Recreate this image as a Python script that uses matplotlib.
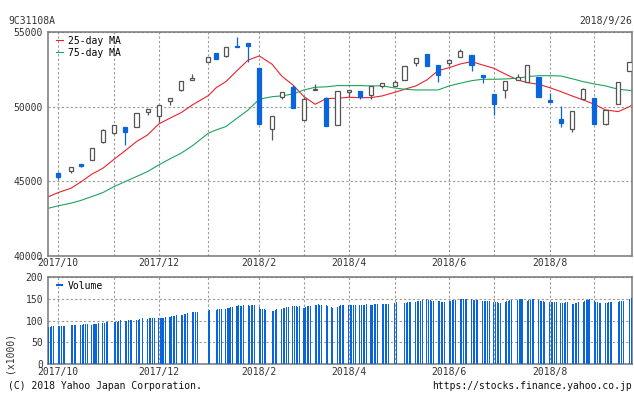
import numpy as np
import pandas as pd
import matplotlib
matplotlib.use('Agg')
import matplotlib.pyplot as plt

plt.rcParams['font.family'] = ['DejaVu Sans Mono']
plt.rcParams['font.size'] = 7

# trading calendar (closed days in the period)
closed = ['2017-10-09', '2017-11-03', '2017-11-23', '2017-12-29', '2018-01-01',
          '2018-01-02', '2018-01-03', '2018-01-08', '2018-02-12', '2018-03-21',
          '2018-04-30', '2018-05-03', '2018-05-04', '2018-07-16', '2018-09-17',
          '2018-09-24']
days = pd.bdate_range('2017-09-26', '2018-09-26')
days = days[~days.isin(pd.to_datetime(closed))]

# weekly candles, Oct 2017 week .. Sep 2018 week
opens = [45550, 45720, 46150, 46440, 47620, 48220, 48645, 48670, 49650, 49360,
         50380, 51120, 51770, 53010, 53575, 53415, 54060, 54245, 52570, 48490,
         50630, 51300, 49095, 51100, 50585, 48800, 51005, 51055, 50765, 51385,
         51385, 51770, 52945, 53530, 52790, 52905, 53350, 53460, 52100, 50850,
         51140, 51810, 51635, 51990, 50430, 49200, 48490, 50500, 50585, 48865,
         50165, 52370]
closes = [45320, 45950, 46020, 47220, 48440, 48760, 48330, 49560, 49830, 50100,
          50570, 51720, 51920, 53310, 53215, 53975, 53980, 54085, 48870, 49360,
          50970, 49935, 50500, 51205, 48730, 51055, 51120, 50670, 51385, 51570,
          51635, 52725, 53240, 52745, 52125, 53105, 53710, 52790, 51990, 50205,
          51720, 51990, 52770, 50670, 50340, 48930, 49715, 51165, 48865, 49760,
          51635, 52975]
highs = [45650, 45960, 46190, 47230, 48480, 48800, 48650, 49580, 49840, 50110,
         50580, 51730, 52190, 53320, 53580, 53980, 54690, 54250, 52580, 49370,
         50980, 51455, 50670, 51500, 50650, 51060, 51125, 51060, 51390, 51575,
         51790, 52730, 53245, 53535, 52795, 53110, 53885, 53465, 52105, 50855,
         51725, 52190, 52775, 51995, 50940, 50050, 49720, 51275, 50590, 49765,
         51640, 52980]
lows = [45150, 45590, 45950, 46430, 47600, 48200, 47440, 48650, 49430, 49000,
        50140, 51070, 51760, 53000, 53200, 53350, 53970, 53010, 48850, 47775,
        50500, 49930, 49080, 51090, 48720, 48790, 50670, 50500, 50540, 51235,
        51380, 51760, 52725, 52740, 51675, 52745, 53340, 52410, 51610, 49465,
        50585, 51800, 51630, 50665, 50330, 48665, 48330, 50490, 48860, 48780,
        50160, 52365]

# moving averages read at start, each candle week, and end
ma25 = [43980,
        44250, 44540, 44945, 45480, 45880, 46480, 47060, 47660, 48110, 48845,
        49230, 49600, 50115, 50740, 51275, 51675, 52410, 53125, 53395, 52840,
        52055, 51455, 50670, 50160, 50540, 50565, 50630, 50605, 50605, 50720,
        50965, 51165, 51385, 51790, 52410, 52610, 52860, 53015, 52790, 52570,
        52190, 51790, 51610, 51500, 51275, 51005, 50720, 50450, 50165, 49780,
        49670, 50005,
        50070]
ma75 = [43205,
        43360, 43540, 43715, 43980, 44250, 44650, 44985, 45320, 45655, 46100,
        46505, 46885, 47375, 48220, 48445, 48665, 49225, 49780, 50500, 50670,
        50720, 50850, 51120, 51300, 51330, 51410, 51410, 51410, 51390, 51390,
        51250, 51165, 51120, 51120, 51120, 51390, 51570, 51740, 51835, 51835,
        51855, 51905, 52010, 52075, 52075, 52055, 51875, 51675, 51520, 51390,
        51165, 51090,
        51075]

# daily volume (x1000), one row per week
volume = [86, 86, 87, 88,
          88, 88, 88, 88, 88,
          90, 90, 90, 90,
          90, 91, 92, 92, 92,
          91, 92, 92, 92, 95,
          94, 95, 97, 97,
          97, 98, 98, 99, 101,
          99, 100, 101, 101, 101,
          101, 102, 104, 105,
          104, 105, 105, 105, 107,
          105, 106, 106, 107, 108,
          108, 110, 110, 111, 112,
          113, 114, 115, 115, 117,
          119, 120, 120, 120,
          122, 124,
          125, 126, 126, 127,
          128, 130, 130, 131, 132,
          134, 135, 134, 134, 136,
          135, 134, 136, 136, 136,
          132, 128, 127, 126, 125,
          122, 122, 124, 126,
          128, 129, 130, 131, 132,
          133, 134, 134, 132, 133,
          130, 132, 133, 134, 134,
          135, 136, 138, 137, 136,
          136, 134, 132, 130,
          132, 134, 135, 136, 136,
          135, 136, 136, 136, 136,
          136, 136, 137, 137, 138,
          137, 136, 138, 138, 138,
          138, 138, 138, 138, 138,
          140, 143,
          141, 141, 142, 143, 143,
          144, 145, 146, 146, 148,
          149, 148, 147, 146, 145,
          145, 145, 144, 143, 143,
          146, 146, 147, 148, 148,
          149, 149, 149, 149, 149,
          149, 148, 148, 148, 148,
          146, 146, 146, 146, 146,
          144, 143, 142, 140, 140,
          143, 145, 146, 148, 148,
          148, 149, 149, 149,
          146, 147, 148, 149, 149,
          148, 146, 145, 145, 144,
          144, 144, 144, 144, 144,
          140, 141, 141, 142, 142,
          138, 139, 140, 141, 142,
          144, 146, 147, 148, 149,
          145, 144, 142, 141, 140,
          140, 141, 142, 142, 143,
          144, 145, 145, 146,
          151, 152]

month_grid = ['2017-10-02', '2017-11-06', '2017-12-04', '2018-01-04', '2018-02-05',
              '2018-03-05', '2018-04-02', '2018-05-01', '2018-06-04', '2018-07-02',
              '2018-08-06', '2018-09-03']
month_labels = ['2017/10', '', '2017/12', '', '2018/2', '', '2018/4', '',
                '2018/6', '', '2018/8', '']

assert len(volume) == len(days), (len(volume), len(days))

BLUE = '#0A64DC'
GRAY = '#555555'
RED = '#E8222C'
GREEN = '#1FA35A'
SPINE = '#777777'

week_first = pd.Series(days, index=days).groupby(days.to_period('W')).min()
candle_days = pd.DatetimeIndex(week_first.values[1:])
ma_days = pd.DatetimeIndex([pd.Timestamp('2017-09-26')] + list(candle_days) + [pd.Timestamp('2018-09-26')])

W, H = 634, 394
fig = plt.figure(figsize=(W / 100, H / 100), dpi=100)


def fbox(l, t, r, b):
    return [l / W, 1 - b / H, (r - l) / W, (b - t) / H]


ax = fig.add_axes(fbox(48, 32, 632, 256))
axv = fig.add_axes(fbox(48, 277.3, 632, 364), sharex=ax)

o = np.array(opens); c = np.array(closes)
hi = np.array(highs); lo = np.array(lows)
up = c >= o
blo = np.minimum(o, c)
bh = np.maximum(np.abs(c - o), 40)

ax.plot(ma_days, ma25, color=RED, lw=0.8, zorder=2, label='25-day MA')
ax.plot(ma_days, ma75, color=GREEN, lw=0.8, zorder=2, label='75-day MA')

ax.vlines(candle_days[up], lo[up], hi[up], color=GRAY, lw=0.9, zorder=3)
ax.vlines(candle_days[~up], lo[~up], hi[~up], color=BLUE, lw=0.9, zorder=3)
ax.bar(candle_days[up], bh[up], bottom=blo[up], width=2.6, facecolor='white',
       edgecolor=GRAY, linewidth=0.9, zorder=4)
ax.bar(candle_days[~up], bh[~up], bottom=blo[~up], width=2.6, facecolor=BLUE,
       edgecolor=BLUE, linewidth=0.9, zorder=4)

axv.bar(days, volume, width=0.65, color=BLUE, linewidth=0, antialiased=False,
        label='Volume', zorder=3)

x0 = pd.Timestamp('2017-09-25 13:00')
x1 = pd.Timestamp('2018-09-26 14:00')
ax.set_xlim(x0, x1)
ax.set_ylim(40000, 55000)
ax.set_yticks([40000, 45000, 50000, 55000])
axv.set_ylim(0, 200)
axv.set_yticks([0, 50, 100, 150, 200])

grid_dates = pd.to_datetime(month_grid)
for a in (ax, axv):
    a.set_xticks(grid_dates)
    a.set_xticklabels(month_labels)
    a.grid(True, linestyle=(0, (2, 2)), color='#999999', lw=0.8)
    a.set_axisbelow(True)
    a.tick_params(length=0, labelsize=7, colors='#333333')
    a.tick_params(axis='y', pad=3.5)
    for s in a.spines.values():
        s.set_color(SPINE)
        s.set_linewidth(1.1)
ax.tick_params(axis='x', pad=1.5)
axv.tick_params(axis='x', pad=2.5)
plt.setp(ax.get_xticklabels(), visible=True)

ax.legend(loc='upper left', bbox_to_anchor=(56 / W, 1 - 35.5 / H),
          bbox_transform=fig.transFigure, frameon=False, fontsize=7,
          handlelength=0.75, handletextpad=0.45, labelspacing=0.22,
          borderpad=0, borderaxespad=0)
axv.legend(loc='upper left', bbox_to_anchor=(56 / W, 1 - 281 / H),
           bbox_transform=fig.transFigure, frameon=False, fontsize=7,
           handlelength=0.75, handletextpad=0.45, borderpad=0, borderaxespad=0)
leg = axv.get_legend()
for h in leg.legend_handles:
    h.set_height(1.2)
    h.set_y(2.5)

fig.text(8 / W, 1 - 21 / H, '9C31108A', ha='left', va='center', color='#333333')
fig.text(632 / W, 1 - 21 / H, '2018/9/26', ha='right', va='center', color='#333333')
fig.text(9 / W, 1 - 352 / H, '(x1000)', rotation=90, ha='center', va='center', color='#333333')
fig.text(8 / W, 1 - 386 / H, '(C) 2018 Yahoo Japan Corporation.', ha='left', va='center', color='#111111')
fig.text(632 / W, 1 - 386 / H, 'https://stocks.finance.yahoo.co.jp', ha='right', va='center', color='#111111')

fig.savefig('out.png', dpi=100)
